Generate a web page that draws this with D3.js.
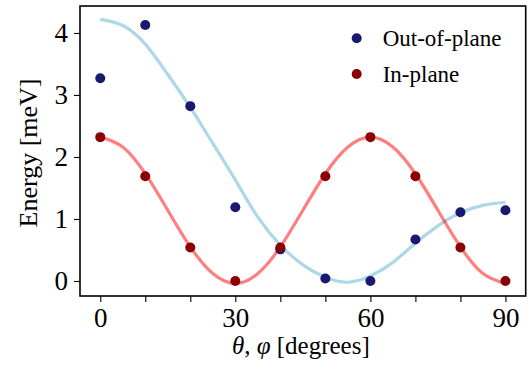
<!DOCTYPE html>
<html>
<head>
<meta charset="utf-8">
<script src="https://cdn.jsdelivr.net/npm/d3@7"></script>
<style>
  html, body { margin: 0; padding: 0; background: #fff; }
  svg { display: block; }
  text { font-family: "Liberation Serif", "DejaVu Serif", serif; fill: #000; }
</style>
</head>
<body>
<svg id="chart" width="530" height="372"></svg>
<script>
// Measured magnon energies (meV) versus rotation angle (degrees)
const outAngles = [0, 10, 20, 30, 40, 50, 60, 70, 80, 90];
const outEnergy = [3.27, 4.13, 2.82, 1.19, 0.51, 0.04, 0.00, 0.67, 1.11, 1.14];
const inAngles  = [0, 10, 20, 30, 40, 50, 60, 70, 80, 90];
const inEnergy  = [2.32, 1.69, 0.54, 0.00, 0.54, 1.69, 2.32, 1.69, 0.54, 0.00];

// Model curves sampled every 5 degrees
const fitAngles = [0, 5, 10, 15, 20, 25, 30, 35, 40, 45, 50, 55, 60, 65, 70, 75, 80, 85, 90];
const outFit = [4.22, 4.12, 3.82, 3.33, 2.80, 2.22, 1.63, 1.03, 0.58, 0.26, 0.06, -0.02, 0.08, 0.30, 0.61, 0.89, 1.10, 1.22, 1.27];
const inFit  = [2.32, 2.16, 1.73, 1.14, 0.55, 0.12, -0.04, 0.12, 0.55, 1.14, 1.73, 2.16, 2.32, 2.16, 1.73, 1.14, 0.55, 0.12, -0.04];

const xTicks = [0, 10, 20, 30, 40, 50, 60, 70, 80, 90];
const xTickLabels = [0, 30, 60, 90];
const yTicks = [0, 1, 2, 3, 4];

const seriesNames = ["Out-of-plane", "In-plane"];
const markColors = ["#191970", "#8b0000"];

const svg = d3.select("#chart");
const padL = 80, padR = 525.7, padT = 6, padB = 296;

const x = d3.scaleLinear().domain([-4.5, 94.5]).range([padL, padR]);
const y = d3.scaleLinear().domain([-0.242, 4.435]).range([padB, padT]);

svg.append("defs").append("clipPath").attr("id", "plotClip")
  .append("rect").attr("x", padL).attr("y", padT)
  .attr("width", padR - padL).attr("height", padB - padT);

const plot = svg.append("g").attr("clip-path", "url(#plotClip)");

const line = (vals) => d3.line()
  .x((d, i) => x(fitAngles[i]))
  .y(d => y(d))
  .curve(d3.curveNatural)(vals);

plot.append("path").attr("d", line(outFit))
  .attr("fill", "none").attr("stroke", "#add8e6").attr("stroke-width", 3.2);
plot.append("path").attr("d", line(inFit))
  .attr("fill", "none").attr("stroke", "#ff0000").attr("stroke-opacity", 0.5)
  .attr("stroke-width", 3.2);

plot.selectAll("circle.out").data(outAngles).join("circle")
  .attr("class", "out")
  .attr("cx", d => x(d)).attr("cy", (d, i) => y(outEnergy[i]))
  .attr("r", 5).attr("fill", markColors[0]);
plot.selectAll("circle.in").data(inAngles).join("circle")
  .attr("class", "in")
  .attr("cx", d => x(d)).attr("cy", (d, i) => y(inEnergy[i]))
  .attr("r", 5).attr("fill", markColors[1]);

// Axes
const xAxis = d3.axisBottom(x).tickValues(xTicks).tickSize(6).tickPadding(6)
  .tickFormat(d => xTickLabels.includes(d) ? d : "");
const gx = svg.append("g").attr("transform", `translate(0,${padB})`).call(xAxis);
const yAxis = d3.axisLeft(y).tickValues(yTicks).tickSize(6).tickPadding(6)
  .tickFormat(d3.format("d"));
const gy = svg.append("g").attr("transform", `translate(${padL},0)`).call(yAxis);

[gx, gy].forEach(g => {
  g.select(".domain").remove();
  g.selectAll(".tick line").attr("stroke", "#000").attr("stroke-width", 1.1);
  g.selectAll(".tick text").style("font-family", "'Liberation Serif', serif")
    .style("font-size", "27px").attr("fill", "#000");
});

// Frame
svg.append("rect").attr("x", padL).attr("y", padT)
  .attr("width", padR - padL).attr("height", padB - padT)
  .attr("fill", "none").attr("stroke", "#000").attr("stroke-width", 1.6);

// Axis titles
const xt = svg.append("text").attr("x", (padL + padR) / 2 - 2).attr("y", 354)
  .attr("text-anchor", "middle").style("font-size", "25px");
xt.append("tspan").attr("font-style", "italic").text("θ");
xt.append("tspan").text(", ");
xt.append("tspan").attr("font-style", "italic").text("φ");
xt.append("tspan").text(" [degrees]");

svg.append("text")
  .attr("transform", `translate(37,${(padT + padB) / 2 + 2}) rotate(-90)`)
  .attr("text-anchor", "middle").style("font-size", "26px")
  .text("Energy [meV]");

// Legend
const legend = svg.append("g");
seriesNames.forEach((name, i) => {
  const ly = 38.3 + i * 35.7;
  legend.append("circle").attr("cx", 356.7).attr("cy", ly).attr("r", 5).attr("fill", markColors[i]);
  legend.append("text").attr("x", 382.7).attr("y", ly + 8)
    .style("font-size", "23px").text(name);
});
</script>
</body>
</html>
